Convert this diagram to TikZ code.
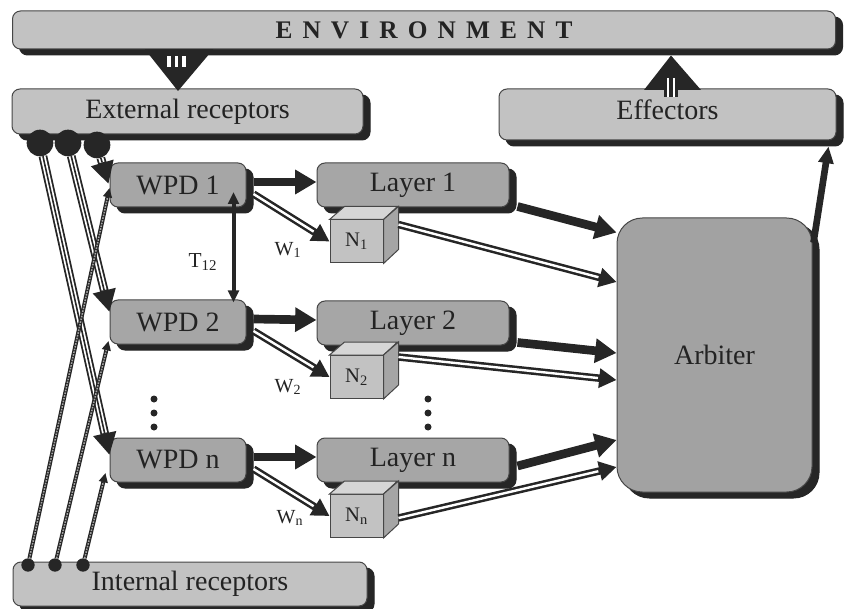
\documentclass[tikz,border=0pt]{standalone}
\usepackage{fontspec}
\setmainfont{Liberation Serif}
\newfontfamily\envfont[LetterSpace=40]{Liberation Serif}
\usetikzlibrary{arrows.meta,calc}

\definecolor{shadowc}{RGB}{38,38,38}
\definecolor{edgec}{RGB}{70,70,70}
\definecolor{lightc}{RGB}{194,194,194}
\definecolor{midc}{RGB}{166,166,166}
\definecolor{arbc}{RGB}{162,162,162}
\definecolor{cubetop}{RGB}{214,214,214}
\definecolor{cubeside}{RGB}{165,165,165}
\definecolor{inkc}{RGB}{35,35,35}

\tikzset{
  shadowed/.style={preaction={fill=shadowc,draw=shadowc,transform canvas={xshift=5.25pt,yshift=-4.5pt}}},
  box/.style={shadowed,draw=edgec,line width=0.75pt,rounded corners=6pt,inner sep=0pt,
    text=inkc,font=\fontsize{21}{24}\selectfont},
  recbox/.style={box,fill=lightc},
  procbox/.style={box,fill=midc,minimum height=33pt},
  cube/.style={draw=edgec,line width=0.75pt,fill=lightc,minimum width=39.75pt,minimum height=32.25pt,
    inner sep=0pt,text=inkc,font=\fontsize{15.5}{17}\selectfont},
  wlab/.style={text=inkc,font=\fontsize{15}{17}\selectfont},
  bigdot/.style={circle,fill=shadowc,minimum size=20pt,inner sep=0pt},
  smalldot/.style={circle,fill=shadowc,minimum size=10pt,inner sep=0pt},
  heavy/.style={draw=shadowc,line width=6.5pt,-{Triangle[length=16pt,width=17.5pt]}},
  dbl/.style={draw=shadowc,line width=5.6pt,-{Triangle[length=13pt,width=14pt]},
    postaction={draw=white,line width=1.8pt,-,shorten >=14pt}},
  trip/.style={draw=shadowc,line width=6.5pt,-{Triangle[length=16.5pt,width=16.5pt]},
    postaction={draw=white,line width=3.8pt,-,shorten >=17pt},
    postaction={draw=shadowc,line width=1.2pt,-,shorten >=17pt}},
  thinl/.style={draw=shadowc,line width=3pt,-{Triangle[length=7pt,width=6.5pt]},
    postaction={draw=black!35,line width=1.1pt,-,dash pattern=on 1.2pt off 0.9pt,shorten >=7pt}},
  tarr/.style={draw=shadowc,line width=3pt,{Triangle[length=9pt,width=8pt]}-{Triangle[length=9pt,width=8pt]}},
  outarr/.style={draw=shadowc,line width=5pt,-{Triangle[length=12.5pt,width=11pt]}}
}

\begin{document}
\begin{tikzpicture}[x=0.75pt,y=0.75pt,yscale=-1,xscale=1]
\useasboundingbox (0,0) rectangle (845,609);

% Boxes
\node[recbox,minimum width=617.25pt,minimum height=28.5pt] (env) at (424,30)
  {\envfont\bfseries\fontsize{19}{22}\selectfont ENVIRONMENT};
\node[recbox,minimum width=263.25pt,minimum height=33.75pt] (extrec) at (187.5,111.5) {External receptors};
\node[recbox,minimum width=252.75pt,minimum height=38.25pt,text depth=7pt] (effect) at (667.5,114.5) {Effectors};
\node[recbox,minimum width=265.5pt,minimum height=33pt] (intrec) at (190,584) {Internal receptors};

\node[procbox,minimum width=102pt] (wpd1) at (178,185) {WPD 1};
\node[procbox,minimum width=102pt] (wpd2) at (178,322) {WPD 2};
\node[procbox,minimum width=102pt] (wpdn) at (178,460) {WPD n};

\node[procbox,minimum width=144pt] (lay1) at (413,185) {Layer 1};
\node[procbox,minimum width=144pt] (lay2) at (413,323) {Layer 2};
\node[procbox,minimum width=144pt] (layn) at (413,460) {Layer n};

\node[box,fill=arbc,rounded corners=19pt,minimum width=146.25pt,minimum height=205.5pt] (arb) at (714.5,355) {Arbiter};

% Cubes
\node[cube] (nn1) at (356.5,241.5) {N\textsubscript{1}};
\node[cube] (nn2) at (356.5,377) {N\textsubscript{2}};
\node[cube] (nnn) at (356.5,516) {N\textsubscript{n}};
\foreach \c in {nn1,nn2,nnn}{
  \filldraw[draw=edgec,line width=0.75pt,fill=cubetop] (\c.north west) -- ++(15,-13) -- ++(53,0) -- (\c.north east) -- cycle;
  \filldraw[draw=edgec,line width=0.75pt,fill=cubeside] (\c.north east) -- ++(15,-13) -- ++(0,43) -- (\c.south east) -- cycle;
}

% Environment in / out
\coordinate (envin) at (178,91);
\coordinate (envtop) at (env.south -| envin);
\fill[shadowc] ($(envtop)+(-33,0)$) -- ($(envtop)+(35,0)$) -- (envin) -- cycle;
\foreach \dx in {-9,-1.5,6}
  \draw[white,line width=2.4pt] ($(envtop)+(\dx,7)$) -- ++(0,11);

\coordinate (effout) at (671,90);
\coordinate (effapex) at ($(effout |- env.south)+(0,6)$);
\fill[shadowc] ($(effout)+(-27,0)$) -- ($(effout)+(30,0)$) -- (effapex) -- cycle;
\draw[shadowc,line width=11pt] ($(effout)+(0,-6)$) -- ++(0,13);
\foreach \dx in {-3,3}
  \draw[white,line width=1.8pt] ($(effout)+(\dx,-12)$) -- ++(0,19);

% WPD -> Layer, WPD -> N
\foreach \w/\l/\n in {wpd1/lay1/nn1,wpd2/lay2/nn2,wpdn/layn/nnn}{
  \draw[heavy] ($(\w.east)+(7,-3)$) -- ($(\l.west)+(0,-3)$);
  \draw[dbl] ($(\w.east)+(7,9)$) -- (\n.west);
}
\node[wlab] (w1) at (288,250) {W\textsubscript{1}};
\node[wlab] (w2) at (288,387) {W\textsubscript{2}};
\node[wlab] (wn) at (290,518) {W\textsubscript{n}};

% T12
\draw[tarr] ($(wpd1.east)+(-13,7)$) -- ($(wpd2.north east)+(-13,3)$);
\node[text=inkc,font=\fontsize{16}{18}\selectfont] (t12) at (203,262) {T\textsubscript{12}};

% Layer -> Arbiter, N -> Arbiter
\draw[heavy] ($(lay1.south east)+(8,-1)$) -- ($(arb.north west)+(0,15)$);
\draw[heavy] ($(lay2.south east)+(8,-3)$) -- ($(arb.west)+(0,-2)$);
\draw[heavy] ($(layn.east)+(8,6)$) -- ($(arb.west)+(0,85)$);
\draw[dbl] ($(nn1.north east)+(15,5)$) -- ($(arb.west)+(0,-73)$);
\draw[dbl] ($(nn2.north east)+(15,2)$) -- ($(arb.west)+(0,25)$);
\draw[dbl] ($(nnn.east)+(15,2)$) -- ($(arb.west)+(0,112)$);

% Arbiter -> Effectors
\draw[outarr] ($(arb.north east)+(1,25)$) -- ($(effect.south east)+(-8,6)$);

% Receptor outputs
\node[bigdot] (ed1) at (40,143) {};
\node[bigdot] (ed2) at (68,143) {};
\node[bigdot] (ed3) at (97,145) {};
\node[smalldot] (id1) at (28,565) {};
\node[smalldot] (id2) at (55,565) {};
\node[smalldot] (id3) at (83,565) {};

\draw[trip] (ed1) -- ($(wpdn.west)+(0,-5)$);
\draw[trip] (ed2) -- ($(wpd2.west)+(0,-10)$);
\draw[trip] (ed3) -- ($(wpd1.west)+(-1,-1)$);
\draw[thinl] (id1) -- ($(wpd1.west)+(0,3)$);
\draw[thinl] (id2) -- ($(wpd2.west)+(-1,19)$);
\draw[thinl] (id3) -- ($(wpdn.west)+(-4,13)$);

% Dots
\foreach \y in {399,413,427}{
  \fill[shadowc] (154,\y) circle (3.5);
  \fill[shadowc] (428,\y) circle (3.5);
}

\end{tikzpicture}
\end{document}
